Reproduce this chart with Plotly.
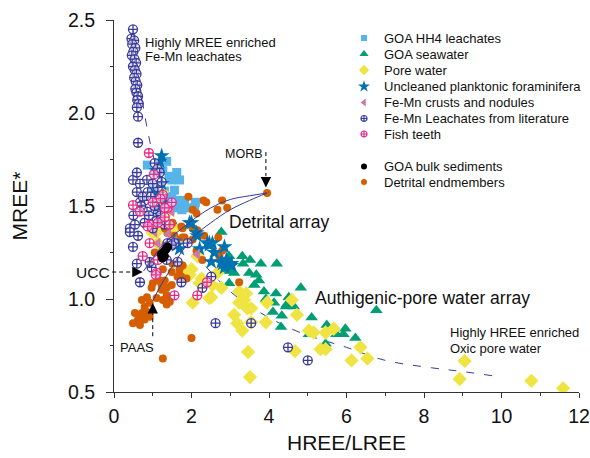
import plotly.graph_objects as go

# ---------------- data (HREE/LREE, MREE*) ----------------
hh4_x = [0.86, 1.05, 1.26, 1.36, 1.42, 1.62, 1.69, 1.49, 1.56, 1.49, 1.64, 1.64, 1.82, 1.87, 2.08, 2.10, 1.44, 1.75, 1.20, 1.30, 1.00, 1.15]
hh4_y = [1.72, 1.69, 1.69, 1.74, 1.66, 1.68, 1.64, 1.64, 1.585, 1.55, 1.53, 1.49, 1.53, 1.49, 1.49, 1.52, 1.48, 1.48, 1.60, 1.58, 1.60, 1.55]

sw_x = [2.77, 2.97, 3.31, 3.51, 3.79, 4.20, 3.33, 3.03, 3.10, 3.67, 3.62, 3.74, 2.97, 3.87, 4.18, 3.92, 4.82, 4.51,
        4.46, 4.64, 4.10, 4.33, 5.10, 5.49, 5.97, 5.74, 5.92, 6.23, 5.46, 5.03, 6.77, 4.31, 2.77, 3.49, 4.13, 4.44]
sw_y = [1.36, 1.23, 1.23, 1.21, 1.19, 1.19, 1.19, 1.15, 1.14, 1.13, 1.075, 1.10, 1.085, 1.04, 1.03, 1.00, 1.06, 1.01,
        0.97, 0.96, 0.93, 0.91, 0.90, 0.86, 0.84, 0.81, 0.81, 0.79, 0.76, 0.81, 0.94, 0.85, 1.15, 1.14, 0.98, 0.96]

pw_x = [2.00, 2.67, 2.21, 2.54, 2.77, 2.03, 2.51, 3.23, 3.41, 3.23, 3.36, 3.44, 3.54, 3.95, 4.59, 3.10, 3.18, 3.31,
        3.92, 3.54, 4.72, 5.03, 5.15, 5.46, 5.67, 5.33, 5.46, 6.36, 6.13, 6.54, 3.46, 3.51, 4.67, 1.77, 2.15, 1.10,
        1.13, 1.82, 1.95, 2.26, 1.00, 1.23, 1.18, 9.05, 8.92, 10.77, 11.59, 1.74, 1.40, 1.30, 1.55, 2.46]
pw_y = [1.16, 1.14, 1.085, 1.075, 1.06, 0.98, 1.01, 1.04, 1.03, 0.98, 0.995, 0.95, 0.95, 0.98, 0.995, 0.915, 0.87, 0.83,
        0.875, 0.875, 0.915, 0.83, 0.82, 0.82, 0.84, 0.73, 0.73, 0.74, 0.67, 0.68, 0.715, 0.58, 0.72, 1.17, 1.23, 1.36,
        1.30, 1.14, 1.13, 1.11, 1.355, 1.575, 1.53, 0.667, 0.57, 0.56, 0.52, 1.13, 1.40, 1.45, 1.38, 1.005]

foram_x = [1.23, 1.18, 1.10, 1.23, 1.10, 2.00, 2.13, 2.46, 2.85, 2.54, 2.59, 2.77, 3.03, 2.90, 2.51, 1.95, 2.15, 1.56,
           1.69, 2.41, 2.46, 2.80, 2.85, 1.62, 2.21, 3.03, 1.30, 1.15]
foram_y = [1.77, 1.74, 1.69, 1.62, 1.575, 1.41, 1.355, 1.30, 1.28, 1.30, 1.25, 1.20, 1.18, 1.21, 1.20, 1.41, 1.34, 1.31,
           1.27, 1.30, 1.29, 1.19, 1.17, 1.29, 1.27, 1.19, 1.52, 1.48]

crust_x = [1.13, 1.31, 1.49, 1.56, 2.15, 1.20, 1.05, 1.40]
crust_y = [1.30, 1.29, 1.47, 1.31, 1.24, 1.42, 1.36, 1.35]

femn_x = [0.49, 0.45, 0.52, 0.47, 0.55, 0.50, 0.46, 0.53, 0.57, 0.49, 0.54, 0.58, 0.52, 0.56, 0.60, 0.55, 0.58, 0.62,
          0.60, 0.64, 0.59, 0.62,
          0.62, 0.49, 0.59, 0.67, 0.41, 0.54, 0.62, 0.85, 1.05, 0.87, 0.79, 0.50, 0.59, 0.67, 1.12, 1.18, 0.74, 1.13,
          1.23, 0.85, 0.41, 0.49, 0.59, 0.67, 0.79, 1.13, 1.38, 1.36, 0.97, 1.64, 1.90, 1.74, 2.28, 2.51, 1.56, 2.62,
          3.54, 4.49, 5.00, 0.92, 1.49, 0.95, 1.05, 1.20, 1.10, 0.90, 1.30, 1.00, 1.25, 0.70, 1.00]
femn_y = [2.45, 2.40, 2.39, 2.37, 2.35, 2.33, 2.31, 2.29, 2.27, 2.25, 2.23, 2.21, 2.19, 2.17, 2.15, 2.13, 2.11, 2.09,
          2.07, 2.05, 2.03, 1.98,
          1.84, 1.64, 1.575, 1.52, 1.38, 1.40, 1.34, 1.64, 1.73, 1.575, 1.53, 1.45, 1.68, 1.62, 1.70, 1.68, 1.55, 1.60,
          1.63, 1.47, 1.36, 1.28, 1.19, 1.09, 1.41, 1.46, 1.30, 1.21, 1.17, 1.20, 1.30, 1.09, 1.06, 1.12, 1.30, 0.87,
          0.87, 0.74, 0.67, 1.20, 1.29, 1.55, 1.50, 1.45, 1.42, 1.45, 1.40, 1.38, 1.55, 1.50, 1.62]

fish_x = [0.90, 1.03, 1.26, 0.49, 1.00, 0.67, 1.38, 1.49, 0.92, 1.13, 1.44, 0.92, 0.74, 1.13, 1.10, 2.40, 1.08, 1.56,
          2.15, 0.87, 1.31, 1.31, 1.20]
fish_y = [1.785, 1.67, 1.56, 1.505, 1.52, 1.47, 1.49, 1.52, 1.40, 1.41, 1.40, 1.30, 1.23, 1.21, 1.14, 1.09, 1.13, 1.02,
          1.02, 1.39, 1.44, 1.49, 1.54]

bulk_x = [1.22, 1.27, 1.31, 1.35, 1.38, 1.30, 1.25]
bulk_y = [1.24, 1.25, 1.26, 1.27, 1.28, 1.23, 1.22]

detr_x = [3.95, 2.79, 2.67, 2.92, 2.69, 2.79, 2.72, 1.92, 2.03, 1.77, 2.03, 1.82, 1.62, 1.31, 2.38, 2.31, 2.13, 1.56,
          1.77, 2.13, 2.28, 1.77, 1.51, 1.49, 1.87, 1.64, 1.26, 1.18, 1.00, 1.23, 1.36, 1.49, 1.69, 2.03, 2.15, 2.33,
          1.74, 1.38, 1.51, 0.97, 1.13, 1.31, 1.23, 1.36, 1.44, 1.36, 1.26, 1.10, 0.85, 0.72, 0.92, 0.79, 0.85, 0.72,
          0.54, 0.67, 0.79, 0.92, 0.49, 0.67, 1.69, 1.74, 2.00, 1.26, 3.23, 0.62, 0.74, 1.05, 0.95]
detr_y = [1.57, 1.53, 1.48, 1.49, 1.33, 1.26, 1.23, 1.55, 1.48, 1.38, 1.38, 1.33, 1.32, 1.38, 1.52, 1.53, 1.46, 1.34,
          1.33, 1.26, 1.21, 1.18, 1.19, 1.145, 1.11, 1.12, 1.16, 1.10, 1.085, 1.075, 1.06, 1.075, 1.16, 1.32, 1.37, 1.34,
          1.39, 1.355, 1.41, 1.06, 1.10, 1.10, 1.05, 1.02, 0.985, 0.97, 0.995, 1.005, 1.01, 0.995, 0.98, 0.957, 0.93,
          0.925, 0.925, 0.90, 0.89, 0.905, 0.87, 0.86, 1.13, 1.12, 0.79, 0.68, 1.09, 0.89, 0.90, 1.25, 1.20]

# authigenic / pore-water trend (dashed guide curve)
trend_x = [0.50, 0.65, 0.80, 1.00, 1.30, 1.70, 2.20, 2.70, 3.30, 4.00, 4.80, 6.00, 7.00, 8.20, 9.00, 10.00]
trend_y = [2.45, 2.18, 1.98, 1.78, 1.57, 1.37, 1.22, 1.10, 0.99, 0.90, 0.82, 0.74, 0.67, 0.63, 0.61, 0.58]

# detrital mixing curves from MORB
mixA_x = [3.95, 3.50, 3.00, 2.50, 2.00, 1.70, 1.40, 1.10, 0.90, 0.76]
mixA_y = [1.57, 1.555, 1.535, 1.49, 1.42, 1.37, 1.32, 1.25, 1.19, 1.15]
mixB_x = [3.95, 3.50, 3.00, 2.50, 2.13, 1.95, 1.77, 1.49, 1.20, 1.00]
mixB_y = [1.57, 1.53, 1.48, 1.41, 1.35, 1.31, 1.26, 1.17, 1.07, 0.99]

# reference end members
morb = (3.92, 1.60)
ucc = (0.74, 1.145)
paas = (1.00, 0.978)

x_ticks = [0, 2, 4, 6, 8, 10, 12]
y_ticks = [0.5, 1.0, 1.5, 2.0, 2.5]

# ---------------- styling ----------------
FONT = "Arial, 'Liberation Sans', sans-serif"
NAVY = "#3a3a9c"
PLOT_L, PLOT_R, PLOT_T, PLOT_B = 114, 579, 20, 392   # plot-area edges in page pixels

series = [
    dict(name="GOA HH4 leachates", x=hh4_x, y=hh4_y, symbol="square", color="#56B4E9", size=9),
    dict(name="GOA seawater", x=sw_x, y=sw_y, symbol="triangle-up", color="#009E73", size=11),
    dict(name="Pore water", x=pw_x, y=pw_y, symbol="diamond", color="#F0E442", size=11),
    dict(name="Detrital endmembers", x=detr_x, y=detr_y, symbol="circle", color="#D55E00", size=8),
    dict(name="Uncleaned planktonic foraminifera", x=foram_x, y=foram_y, symbol="star", color="#0072B2", size=12),
    dict(name="Fe-Mn crusts and nodules", x=crust_x, y=crust_y, symbol="triangle-left", color="#CC79A7", size=10),
    dict(name="Fe-Mn Leachates from literature", x=femn_x, y=femn_y, symbol="circle-cross", color=NAVY, size=9),
    dict(name="Fish teeth", x=fish_x, y=fish_y, symbol="circle-cross", color="#E7298A", size=9),
    dict(name="GOA bulk sediments", x=bulk_x, y=bulk_y, symbol="circle", color="#000000", size=9),
]

fig = go.Figure()

# dashed trend beneath the markers
fig.add_trace(go.Scatter(x=trend_x, y=trend_y, mode="lines", line=dict(color=NAVY, width=1, dash="8px,10px", shape="spline"),
                         showlegend=False, hoverinfo="skip"))

for s in series:
    crossed = s["symbol"] == "circle-cross"
    marker = dict(symbol=s["symbol"], size=s["size"])
    if crossed:
        marker.update(color="rgba(255,255,255,0.55)", line=dict(color=s["color"], width=1.3))
    else:
        marker.update(color=s["color"], line=dict(width=0))
    fig.add_trace(go.Scatter(x=s["x"], y=s["y"], mode="markers", name=s["name"], marker=marker, showlegend=False))

for mx, my in [(mixA_x, mixA_y), (mixB_x, mixB_y)]:
    fig.add_trace(go.Scatter(x=mx, y=my, mode="lines", line=dict(color=NAVY, width=1, shape="spline"),
                             showlegend=False, hoverinfo="skip"))

# ---------------- hand-built legend on a pixel overlay ----------------
legend_order = ["GOA HH4 leachates", "GOA seawater", "Pore water", "Uncleaned planktonic foraminifera",
                "Fe-Mn crusts and nodules", "Fe-Mn Leachates from literature", "Fish teeth",
                "GOA bulk sediments", "Detrital endmembers"]
legend_rows = [38, 54, 70, 86.5, 102.5, 118.5, 134, 166.5, 182]
legend_key_x = 364
legend_text_x = 382
by_name = {s["name"]: s for s in series}
annotations = []
for name, ry in zip(legend_order, legend_rows):
    s = by_name[name]
    crossed = s["symbol"] == "circle-cross"
    marker = dict(symbol=s["symbol"], size=max(6, s["size"] - 3))
    if crossed:
        marker.update(color="white", line=dict(color=s["color"], width=1.2))
    else:
        marker.update(color=s["color"], line=dict(width=0))
    fig.add_trace(go.Scatter(x=[legend_key_x], y=[ry], xaxis="x2", yaxis="y2", mode="markers",
                             marker=marker, showlegend=False, hoverinfo="skip"))
    annotations.append(dict(x=legend_text_x, y=ry, xref="x2", yref="y2", text=name, showarrow=False,
                            xanchor="left", yanchor="middle", font=dict(size=13, color="#111", family=FONT)))

# ---------------- text labels ----------------
def label(x, y, text, size, anchor="left"):
    annotations.append(dict(x=x, y=y, xref="x2", yref="y2", text=text, showarrow=False, xanchor=anchor,
                            yanchor="middle", font=dict(size=size, color="#111", family=FONT)))

label(143, 42, "Highly MREE enriched", 13)
label(143, 56, "Fe-Mn leachates", 13)
label(448, 332, "Highly HREE enriched", 13)
label(448, 348, "Oxic pore water", 13)
label(227, 222, "Detrital array", 17.5)
label(313, 298, "Authigenic-pore water array", 17.5)
label(265, 154, "MORB", 12.5, anchor="right")
label(118, 347, "PAAS", 13)
annotations.append(dict(x=-0.005, y=ucc[1], xref="paper", yref="y", text="UCC", showarrow=False, xanchor="right",
                        yanchor="middle", font=dict(size=15.5, color="#111", family=FONT)))

# arrowheads for reference end members
for (px, py), (ax, ay) in [(morb, (0, -11)), (ucc, (-11, 0)), (paas, (0, 11))]:
    annotations.append(dict(x=px, y=py, xref="x", yref="y", text="", showarrow=True, arrowhead=2,
                            arrowsize=1.3, arrowwidth=1.6, arrowcolor="#000", ax=ax, ay=ay))

shapes = [
    dict(type="line", xref="x", yref="y", x0=morb[0], x1=morb[0], y0=1.79, y1=1.66,
         line=dict(color="#000", width=1, dash="4px,3px")),
    dict(type="line", xref="x", yref="y", x0=paas[0], x1=paas[0], y0=0.80, y1=0.93,
         line=dict(color="#000", width=1, dash="4px,3px")),
    dict(type="line", xref="paper", yref="y", x0=-0.004, x1=0.04, y0=ucc[1], y1=ucc[1],
         line=dict(color="#000", width=1, dash="4px,3px")),
]

axis_common = dict(showline=True, linecolor="#333", linewidth=1, showgrid=False, zeroline=False,
                   automargin=False, ticklabeloverflow="allow",
                   ticks="outside", tickcolor="#333", tickfont=dict(size=19.5, color="#111", family=FONT))

fig.update_layout(
    width=590, height=458,
    margin=dict(l=PLOT_L, r=590 - PLOT_R, t=PLOT_T, b=458 - PLOT_B, autoexpand=False),
    paper_bgcolor="white", plot_bgcolor="white",
    font=dict(family=FONT, color="#111"),
    showlegend=False,
    xaxis=dict(range=[0, 12], tickvals=x_ticks, ticklen=5, ticklabelstandoff=2,
               minor=dict(dtick=1, ticks="outside", ticklen=3, tickcolor="#333"),
               title=dict(text="HREE/LREE", font=dict(size=21, family=FONT), standoff=8), **axis_common),
    yaxis=dict(range=[0.5, 2.5], tickvals=y_ticks, tickformat=".1f", ticklen=7, ticklabelstandoff=7,
               minor=dict(dtick=0.25, ticks="outside", ticklen=3, tickcolor="#333"),
               title=dict(text="MREE*", font=dict(size=21, family=FONT), standoff=34), **axis_common),
    xaxis2=dict(range=[PLOT_L, PLOT_R], overlaying="x", visible=False, fixedrange=True),
    yaxis2=dict(range=[PLOT_B, PLOT_T], overlaying="y", visible=False, fixedrange=True),
    annotations=annotations,
    shapes=shapes,
)

fig.write_html("out.html")
